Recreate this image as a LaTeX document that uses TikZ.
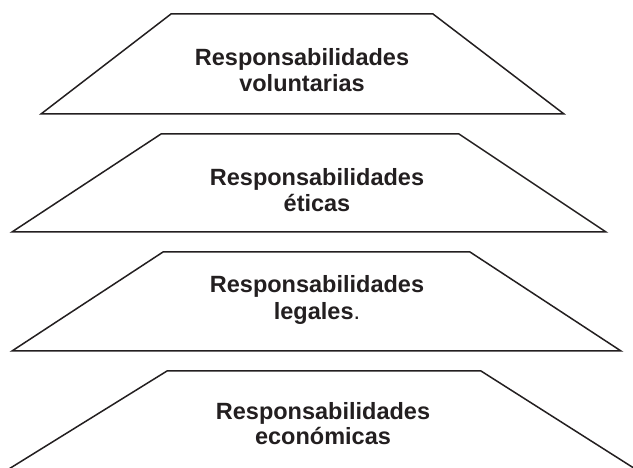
\documentclass[tikz,border=0pt]{standalone}
\usepackage{fontspec}
\setmainfont{Liberation Sans}
\definecolor{ink}{HTML}{231F20}
\begin{document}
\begin{tikzpicture}[x=1pt,y=1pt,
  layer/.style={draw=ink,line width=1.5pt,line join=miter,fill=white},
  lbl/.style={anchor=base,inner sep=0pt,text=ink,font=\fontsize{23.5}{26}\selectfont\bfseries}]
\useasboundingbox (0,0) rectangle (633,468);
\begin{scope}
\clip (0,0) rectangle (633,468);
% layer 1
\coordinate (a1) at (171,454); \coordinate (b1) at (433,454);
\coordinate (c1) at (564,354); \coordinate (d1) at (41,354);
\draw[layer] (a1) -- (b1) -- (c1) -- (d1) -- cycle;
% layer 2
\coordinate (a2) at (161,334); \coordinate (b2) at (459,334);
\coordinate (c2) at (606,236); \coordinate (d2) at (12,236);
\draw[layer] (a2) -- (b2) -- (c2) -- (d2) -- cycle;
% layer 3
\coordinate (a3) at (163,216); \coordinate (b3) at (470,216);
\coordinate (c3) at (621,117); \coordinate (d3) at (12,117);
\draw[layer] (a3) -- (b3) -- (c3) -- (d3) -- cycle;
% layer 4
\coordinate (a4) at (167,97); \coordinate (b4) at (481,97);
\coordinate (c4) at (640,-4); \coordinate (d4) at (4,-4);
\draw[layer] (a4) -- (b4) -- (c4) -- (d4) -- cycle;
\end{scope}
\node[lbl] (t1a) at (302,402) {Responsabilidades};
\node[lbl] (t1b) at (302,376) {voluntarias};
\node[lbl] (t2a) at (317,282) {Responsabilidades};
\node[lbl] (t2b) at (317,256) {éticas};
\node[lbl] (t3a) at (317,175) {Responsabilidades};
\node[lbl] (t3b) at (317,148) {legales\mdseries.};
\node[lbl] (t4a) at (323,48) {Responsabilidades};
\node[lbl] (t4b) at (323,23) {económicas};
\end{tikzpicture}
\end{document}
